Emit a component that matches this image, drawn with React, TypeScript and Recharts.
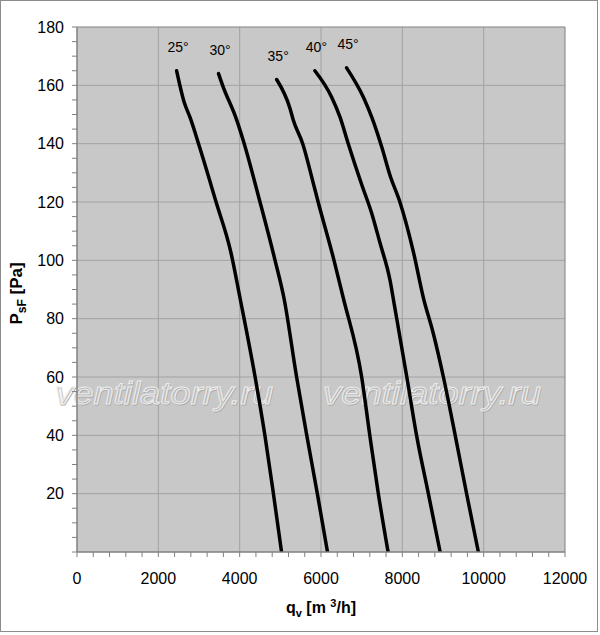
import React from 'react';
import { LineChart, Line, XAxis, YAxis, CartesianGrid, ReferenceLine, LabelList, Label } from 'recharts';

// ---- data (q in m3/h, p in Pa) ----
const curve25 = [
  { q: 2450, p: 165 }, { q: 2640, p: 154 }, { q: 2780, p: 149 }, { q: 3010, p: 139 },
  { q: 3420, p: 120 }, { q: 3780, p: 103 }, { q: 4010, p: 87 }, { q: 4380, p: 60 },
  { q: 4620, p: 40 }, { q: 4830, p: 20 }, { q: 5030, p: 0 },
];
const curve30 = [
  { q: 3480, p: 164 }, { q: 3580, p: 160 }, { q: 3930, p: 148 }, { q: 4090, p: 141 },
  { q: 4500, p: 120 }, { q: 4870, p: 100 }, { q: 5090, p: 87 },
  { q: 5400, p: 60 }, { q: 5650, p: 40 }, { q: 5910, p: 20 }, { q: 6160, p: 0 },
];
const curve35 = [
  { q: 4910, p: 162 }, { q: 5240, p: 152 }, { q: 5320, p: 148 }, { q: 5550, p: 140 },
  { q: 5800, p: 127 }, { q: 5930, p: 120 }, { q: 6320, p: 100 }, { q: 6550, p: 87 },
  { q: 7000, p: 60 }, { q: 7200, p: 40 }, { q: 7410, p: 20 }, { q: 7650, p: 0 },
];
const curve40 = [
  { q: 5850, p: 165 }, { q: 6260, p: 156 }, { q: 6470, p: 149 }, { q: 6670, p: 140 },
  { q: 7000, p: 126 }, { q: 7250, p: 116 }, { q: 7450, p: 106 }, { q: 7700, p: 93 },
  { q: 7800, p: 85 }, { q: 8110, p: 60 }, { q: 8350, p: 40 }, { q: 8640, p: 20 },
  { q: 8930, p: 0 },
];
const curve45 = [
  { q: 6630, p: 166 }, { q: 7040, p: 156 }, { q: 7250, p: 149 }, { q: 7490, p: 139 },
  { q: 7700, p: 129 }, { q: 7940, p: 120 }, { q: 8270, p: 103 }, { q: 8520, p: 87 },
  { q: 8760, p: 75 }, { q: 9010, p: 60 }, { q: 9300, p: 40 }, { q: 9580, p: 20 },
  { q: 9870, p: 0 },
];
const seriesNames = ['25°', '30°', '35°', '40°', '45°'];
const seriesData = [curve25, curve30, curve35, curve40, curve45];

const xMajorTicks = [0, 2000, 4000, 6000, 8000, 10000, 12000];
const yMajorTicks = [20, 40, 60, 80, 100, 120, 140, 160, 180];
const xGridValues = [2000, 4000, 6000, 8000, 10000];
const yGridValues = [20, 40, 60, 80, 100, 120, 140, 160];
const xMinorStep = 400;
const yMinorStep = 5;
const xAllTicks = Array.from({ length: 12000 / xMinorStep + 1 }, (_, i) => i * xMinorStep);
const yAllTicks = Array.from({ length: 180 / yMinorStep + 1 }, (_, i) => i * yMinorStep);
const watermarkText = 'ventilatorry.ru';

const FONT = "Arial, 'Liberation Sans', Helvetica, sans-serif";
const AXIS_GRAY = '#808080';

const XTick = (props: any) => {
  const { x, y, payload } = props;
  if (!xMajorTicks.includes(payload.value)) return <g />;
  return (
    <text x={x} y={y + 25} textAnchor="middle" fontFamily={FONT} fontSize={16} fill="#000">
      {payload.value}
    </text>
  );
};

const YTick = (props: any) => {
  const { x, y, payload } = props;
  if (!yMajorTicks.includes(payload.value)) return <g />;
  return (
    <text x={x - 6} y={y} dy="0.36em" textAnchor="end" fontFamily={FONT} fontSize={16} fill="#000">
      {payload.value}
    </text>
  );
};

const XTitle = (props: any) => {
  const vb = props.viewBox || {};
  const cx = vb.x + vb.width / 2;
  const cy = vb.y + 61;
  return (
    <text x={cx} y={cy} textAnchor="middle" fontFamily={FONT} fontSize={16} fontWeight="bold" fill="#000">
      <tspan>q</tspan>
      <tspan fontSize={11} dy={4}>v</tspan>
      <tspan dy={-4}>{'  [m '}</tspan>
      <tspan fontSize={11} dy={-6}>3</tspan>
      <tspan dy={6}>/h]</tspan>
    </text>
  );
};

const YTitle = (props: any) => {
  const vb = props.viewBox || {};
  const cx = 21;
  const cy = vb.y + vb.height / 2 + 4;
  return (
    <text
      x={cx}
      y={cy}
      textAnchor="middle"
      transform={`rotate(-90, ${cx}, ${cy})`}
      fontFamily={FONT}
      fontSize={17}
      fontWeight="bold"
      fill="#000"
    >
      <tspan>P</tspan>
      <tspan fontSize={12} dy={4}>sF</tspan>
      <tspan dy={-4}>{' [Pa]'}</tspan>
    </text>
  );
};

const Watermark = (props: any) => {
  const vb = props.viewBox || {};
  const baseY = vb.y - 2;
  const xs = [vb.x - 22, vb.x + 246];
  return (
    <g pointerEvents="none">
      {xs.map((x, i) => (
        <g key={i}>
          <text x={x + 0.8} y={baseY + 0.8} fontFamily={FONT} fontStyle="italic" fontSize={31}
            textLength={218} lengthAdjust="spacingAndGlyphs"
            fill="none" stroke="#a9a9a9" strokeWidth={0.9}>{watermarkText}</text>
          <text x={x} y={baseY} fontFamily={FONT} fontStyle="italic" fontSize={31}
            textLength={218} lengthAdjust="spacingAndGlyphs"
            fill="rgba(255,255,255,0.08)" stroke="#ececec" strokeWidth={1}>{watermarkText}</text>
        </g>
      ))}
    </g>
  );
};

const makeSeriesLabel = (name: string) => (props: any) => {
  const { x, y, index } = props;
  if (index !== 0) return <g />;
  return (
    <text x={x + 1.5} y={y - 24} dy="0.36em" textAnchor="middle" fontFamily={FONT} fontSize={14} fill="#000">
      {name}
    </text>
  );
};

export default function App() {
  return (
    <div
      style={{
        position: 'absolute',
        left: 0,
        top: 0,
        width: 596,
        height: 630,
        border: '1px solid #8c8c8c',
        background: '#fff',
      }}
    >
      <LineChart width={596} height={630} margin={{ top: 26, right: 32, left: 0, bottom: 0 }}>
        <CartesianGrid
          fill="#c8c8c8"
          stroke="#a2a2a2"
          strokeWidth={1}
          verticalValues={xGridValues}
          horizontalValues={yGridValues}
        />
        <XAxis
          type="number"
          dataKey="q"
          domain={[0, 12000]}
          ticks={xAllTicks}
          interval={0}
          tick={<XTick />}
          tickSize={5}
          height={79}
          axisLine={{ stroke: AXIS_GRAY, strokeWidth: 1.5 }}
          tickLine={{ stroke: AXIS_GRAY }}
          allowDataOverflow
        >
          <Label content={<XTitle />} />
        </XAxis>
        <YAxis
          type="number"
          dataKey="p"
          domain={[0, 180]}
          ticks={yAllTicks}
          interval={0}
          tick={<YTick />}
          tickSize={5}
          width={76}
          axisLine={{ stroke: AXIS_GRAY, strokeWidth: 1.5 }}
          tickLine={{ stroke: AXIS_GRAY }}
          allowDataOverflow
        >
          <Label content={<YTitle />} />
        </YAxis>
        <ReferenceLine y={180} stroke={AXIS_GRAY} strokeWidth={1} />
        <ReferenceLine x={12000} stroke={AXIS_GRAY} strokeWidth={1} />
        <ReferenceLine y={50} stroke="none" label={<Watermark />} />
        {seriesData.map((d, i) => (
          <Line
            key={seriesNames[i]}
            data={d}
            dataKey="p"
            type="monotone"
            stroke="#000"
            strokeWidth={3.5}
            strokeLinecap="round"
            strokeLinejoin="round"
            dot={false}
            activeDot={false}
            isAnimationActive={false}
          >
            <LabelList dataKey="p" content={makeSeriesLabel(seriesNames[i])} />
          </Line>
        ))}
      </LineChart>
    </div>
  );
}
